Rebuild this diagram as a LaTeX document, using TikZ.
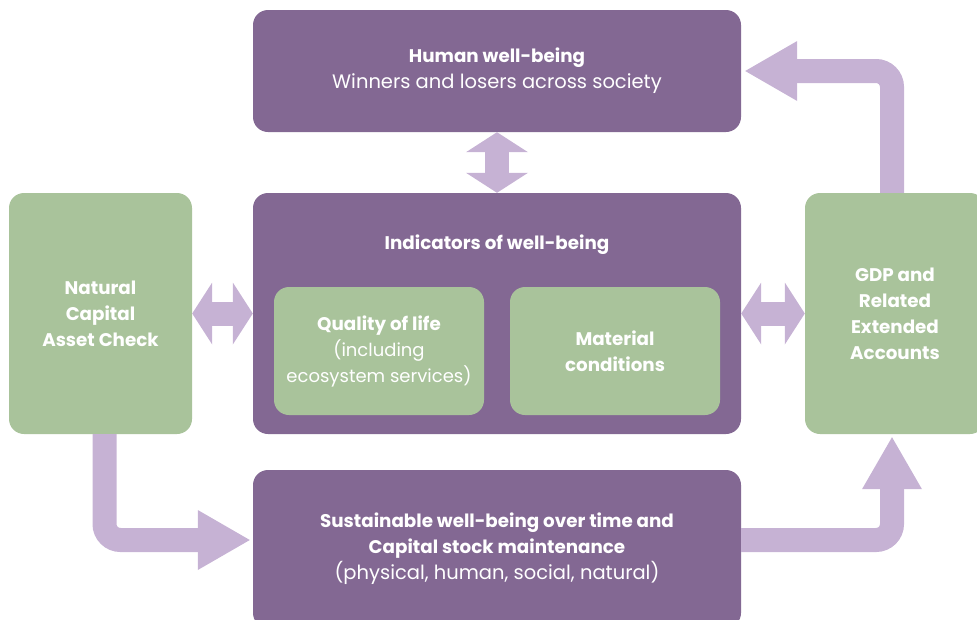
\documentclass[tikz,border=0pt]{standalone}
\usepackage{fontspec}
\setmainfont{Poppins}
\usetikzlibrary{arrows.meta}
\definecolor{purp}{HTML}{836893}
\definecolor{grn}{HTML}{A9C39B}
\definecolor{arr}{HTML}{C6B2D4}
\begin{document}
\begin{tikzpicture}[x=1pt,y=-1pt,
  box/.style={rectangle, rounded corners=15pt, inner sep=0pt, text=white, align=center},
  pbox/.style={box, fill=purp},
  gbox/.style={box, fill=grn},
  flow/.style={draw=arr, line width=24pt, rounded corners=16pt,
    -{Triangle[length=52pt,width=60pt,line width=0pt 0 0]}},
  dbl/.style={draw=arr, line width=24pt,
    {Triangle[length=20pt,width=62pt,line width=0pt 0 0]}-{Triangle[length=20pt,width=62pt,line width=0pt 0 0]}},
  hd/.style={font=\fontsize{18.3}{26}\selectfont\bfseries},
  rg/.style={font=\fontsize{18}{26}\selectfont},
  rgl/.style={font=\fontsize{19.5}{26}\selectfont}
]
\useasboundingbox (0,0) rectangle (977,619);
\clip (0,0) rectangle (977,619);

% boxes
\node[pbox, minimum width=488pt, minimum height=122pt, rgl] (top) at (497,71)
  {{\fontsize{18.3}{26}\selectfont\bfseries Human well-being}\\Winners and losers across society};
\node[pbox, minimum width=488pt, minimum height=241pt] (mid) at (497,313.5) {};
\node[text=white, hd] (midtitle) at (497,245) {Indicators of well-being};
\node[gbox, minimum width=210pt, minimum height=128pt, rg] (qual) at (379,351)
  {{\fontsize{18.3}{26}\selectfont\bfseries Quality of life}\\(including\\ecosystem services)};
\node[gbox, minimum width=210pt, minimum height=128pt, hd] (mat) at (615,351)
  {Material\\conditions};
\node[gbox, minimum width=183pt, minimum height=241pt, hd] (left) at (100.5,313.5)
  {Natural\\Capital\\Asset Check};
\node[gbox, minimum width=180pt, minimum height=241pt, hd] (right) at (895,313.5)
  {GDP and\\Related\\Extended\\Accounts};
\node[pbox, minimum width=488pt, minimum height=158pt, rgl] (bot) at (497,549)
  {{\fontsize{18.3}{26}\selectfont\bfseries Sustainable well-being over time and}\\{\fontsize{18.3}{26}\selectfont\bfseries Capital stock maintenance}\\(physical, human, social, natural)};

% arrows
\draw[flow] ([xshift=4pt]left.south) |- ([xshift=-3pt,yshift=9pt]bot.west);
\draw[flow] ([yshift=9pt]bot.east) -| ([xshift=-3pt,yshift=-3pt]right.south);
\draw[flow] ([xshift=-3pt]right.north) |- ([xshift=4pt]top.east);
\draw[dbl] (left.east) -- (mid.west);
\draw[dbl] (mid.east) -- (right.west);
\draw[dbl] (top.south) -- (mid.north);
\end{tikzpicture}
\end{document}
